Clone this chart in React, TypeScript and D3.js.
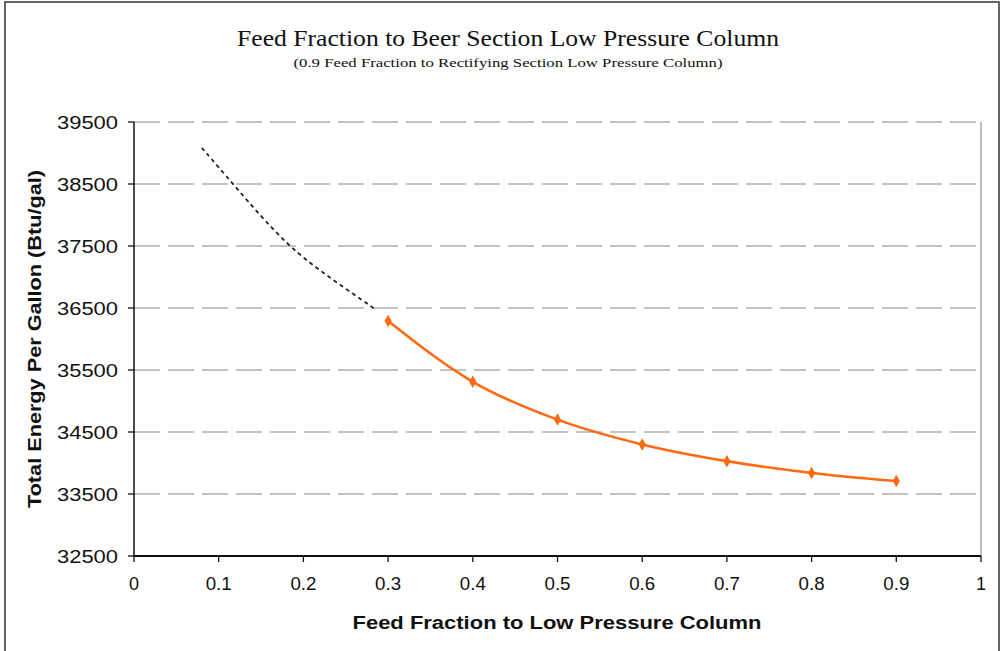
import React from "react";
import * as d3 from "d3";

const xTicks = [0, 0.1, 0.2, 0.3, 0.4, 0.5, 0.6, 0.7, 0.8, 0.9, 1];
const yTicks = [32500, 33500, 34500, 35500, 36500, 37500, 38500, 39500];
const fractions = [0.3, 0.4, 0.5, 0.6, 0.7, 0.8, 0.9];
const energy = [36290, 35310, 34700, 34300, 34030, 33840, 33710];
const trendX = [0.08, 0.117, 0.18, 0.235, 0.285];
const trendY = [39085, 38500, 37500, 36950, 36480];

const W = 1002, H = 651;
const x = d3.scaleLinear().domain([0, 1]).range([134, 981]);
const y = d3.scaleLinear().domain([32500, 39500]).range([556, 122]);

export default function App() {
  const line = d3.line<[number, number]>().x(d => x(d[0])).y(d => y(d[1])).curve(d3.curveMonotoneX);
  const smooth = d3.line<[number, number]>().x(d => x(d[0])).y(d => y(d[1])).curve(d3.curveBasis);
  const data: [number, number][] = fractions.map((f, i) => [f, energy[i]]);
  const trend: [number, number][] = trendX.map((f, i) => [f, trendY[i]]);
  return (
    <svg width={W} height={H} style={{ position: "absolute", left: 0, top: 0, background: "#fff" }}>
      <rect x={5} y={2} width={994} height={700} fill="#fff" stroke="#333" strokeWidth={1.5} />
      <text x={508} y={46} textAnchor="middle" fontFamily="'Liberation Serif', serif" fontSize={24} textLength={542} lengthAdjust="spacingAndGlyphs" fill="#111">Feed Fraction to Beer Section Low Pressure Column</text>
      <text x={508} y={67} textAnchor="middle" fontFamily="'Liberation Serif', serif" fontSize={13.5} textLength={429} lengthAdjust="spacingAndGlyphs" fill="#111">(0.9 Feed Fraction to Rectifying Section Low Pressure Column)</text>
      {yTicks.filter(v => v !== 32500).map(v => (
        <line key={v} x1={x(0)} x2={x(1)} y1={y(v)} y2={y(v)} stroke="#b0b0b0" strokeWidth={1.6} strokeDasharray="26,8" />
      ))}
      <line x1={x(1)} x2={x(1)} y1={y(39500)} y2={y(32500)} stroke="#a8a8a8" strokeWidth={1.5} />
      <line x1={x(0)} x2={x(0)} y1={y(39500)} y2={y(32500)} stroke="#111" strokeWidth={1.5} />
      <line x1={x(0)} x2={x(1)} y1={y(32500)} y2={y(32500)} stroke="#111" strokeWidth={1.8} />
      {yTicks.map(v => (
        <g key={v}>
          <line x1={x(0) - 6} x2={x(0)} y1={y(v)} y2={y(v)} stroke="#111" strokeWidth={1.3} />
          <text x={118} y={y(v) + 6.5} textAnchor="end" fontFamily="'Liberation Sans', Arial, sans-serif" fontSize={18} textLength={61} lengthAdjust="spacingAndGlyphs" fill="#111">{v}</text>
        </g>
      ))}
      {xTicks.map(v => (
        <g key={v}>
          <line x1={x(v)} x2={x(v)} y1={y(32500)} y2={y(32500) + 6} stroke="#111" strokeWidth={1.3} />
          <text x={x(v)} y={590} textAnchor="middle" fontFamily="'Liberation Sans', Arial, sans-serif" fontSize={18} {...(v !== 0 && v !== 1 ? { textLength: 26, lengthAdjust: "spacingAndGlyphs" } : {})} fill="#111">{String(v)}</text>
        </g>
      ))}
      <text x={557} y={629} textAnchor="middle" fontFamily="'Liberation Sans', Arial, sans-serif" fontWeight="bold" fontSize={18} textLength={409} lengthAdjust="spacingAndGlyphs" fill="#111">Feed Fraction to Low Pressure Column</text>
      <text transform="translate(41,339) rotate(-90)" textAnchor="middle" fontFamily="'Liberation Sans', Arial, sans-serif" fontWeight="bold" fontSize={18} textLength={338} lengthAdjust="spacingAndGlyphs" fill="#111">Total Energy Per Gallon (Btu/gal)</text>
      <path d={smooth(trend) || ""} fill="none" stroke="#222" strokeWidth={1.8} strokeDasharray="4,3.5" />
      <path d={line(data) || ""} fill="none" stroke="#FF6A10" strokeWidth={2.6} />
      {data.map((d, i) => (
        <path key={i} transform={`translate(${x(d[0])},${y(d[1])})`} d={d3.symbol(d3.symbolDiamond, 45)() || ""} fill="#FF6A10" />
      ))}
    </svg>
  );
}
